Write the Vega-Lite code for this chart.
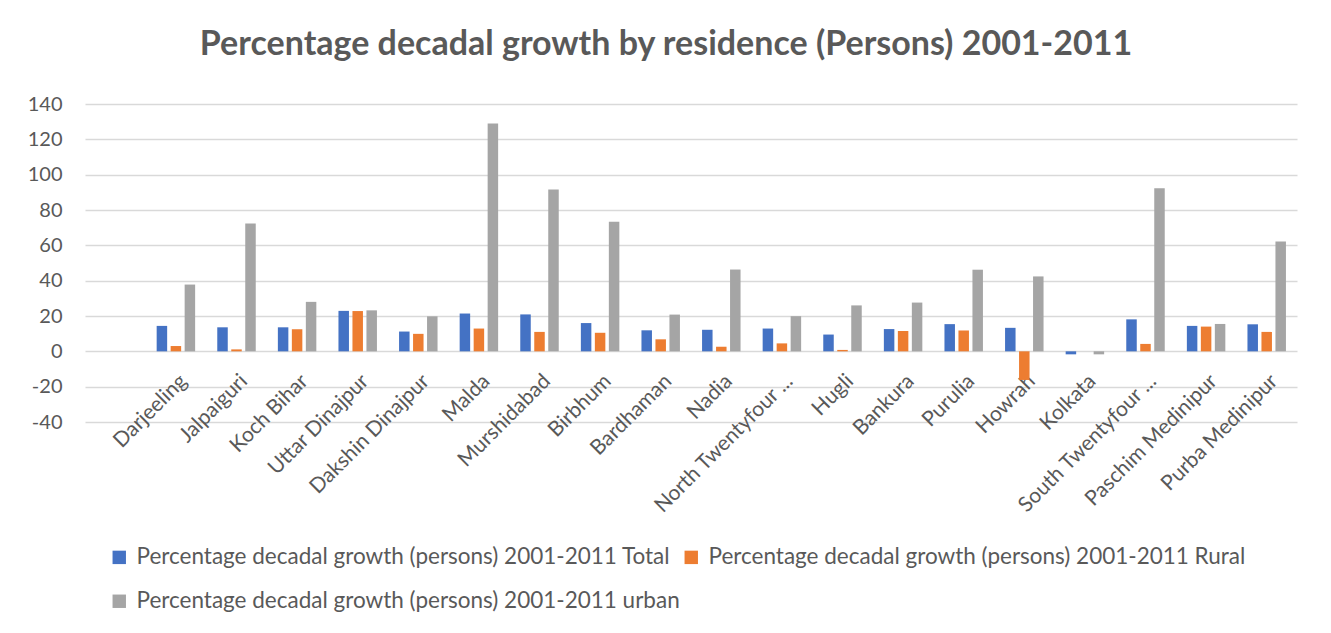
{
  "$schema": "https://vega.github.io/schema/vega-lite/v6.json",
  "autosize": {"type": "none"},
  "width": 1212,
  "height": 318,
  "padding": {"left": 85, "top": 104, "right": 34, "bottom": 211},
  "background": "white",
  "title": {
    "text": "Percentage decadal growth by residence (Persons) 2001-2011",
    "font": "Lato",
    "fontSize": 34,
    "fontWeight": "bold",
    "color": "#595959",
    "anchor": "middle",
    "dx": -25,
    "offset": 32
  },
  "config": {
    "view": {"stroke": null},
    "font": "Lato"
  },
  "data": {
    "values": [
      {"district": "Darjeeling", "series": "Percentage decadal growth (persons) 2001-2011 Total", "value": 14.4},
      {"district": "Darjeeling", "series": "Percentage decadal growth (persons) 2001-2011 Rural", "value": 3.0},
      {"district": "Darjeeling", "series": "Percentage decadal growth (persons) 2001-2011 urban", "value": 37.8},
      {"district": "Jalpaiguri", "series": "Percentage decadal growth (persons) 2001-2011 Total", "value": 13.6},
      {"district": "Jalpaiguri", "series": "Percentage decadal growth (persons) 2001-2011 Rural", "value": 1.1},
      {"district": "Jalpaiguri", "series": "Percentage decadal growth (persons) 2001-2011 urban", "value": 72.3},
      {"district": "Koch Bihar", "series": "Percentage decadal growth (persons) 2001-2011 Total", "value": 13.6},
      {"district": "Koch Bihar", "series": "Percentage decadal growth (persons) 2001-2011 Rural", "value": 12.5},
      {"district": "Koch Bihar", "series": "Percentage decadal growth (persons) 2001-2011 urban", "value": 28.0},
      {"district": "Uttar Dinajpur", "series": "Percentage decadal growth (persons) 2001-2011 Total", "value": 22.9},
      {"district": "Uttar Dinajpur", "series": "Percentage decadal growth (persons) 2001-2011 Rural", "value": 22.8},
      {"district": "Uttar Dinajpur", "series": "Percentage decadal growth (persons) 2001-2011 urban", "value": 23.2},
      {"district": "Dakshin Dinajpur", "series": "Percentage decadal growth (persons) 2001-2011 Total", "value": 11.2},
      {"district": "Dakshin Dinajpur", "series": "Percentage decadal growth (persons) 2001-2011 Rural", "value": 9.9},
      {"district": "Dakshin Dinajpur", "series": "Percentage decadal growth (persons) 2001-2011 urban", "value": 19.8},
      {"district": "Malda", "series": "Percentage decadal growth (persons) 2001-2011 Total", "value": 21.4},
      {"district": "Malda", "series": "Percentage decadal growth (persons) 2001-2011 Rural", "value": 12.9},
      {"district": "Malda", "series": "Percentage decadal growth (persons) 2001-2011 urban", "value": 129.0},
      {"district": "Murshidabad", "series": "Percentage decadal growth (persons) 2001-2011 Total", "value": 20.9},
      {"district": "Murshidabad", "series": "Percentage decadal growth (persons) 2001-2011 Rural", "value": 11.0},
      {"district": "Murshidabad", "series": "Percentage decadal growth (persons) 2001-2011 urban", "value": 91.6},
      {"district": "Birbhum", "series": "Percentage decadal growth (persons) 2001-2011 Total", "value": 16.0},
      {"district": "Birbhum", "series": "Percentage decadal growth (persons) 2001-2011 Rural", "value": 10.5},
      {"district": "Birbhum", "series": "Percentage decadal growth (persons) 2001-2011 urban", "value": 73.4},
      {"district": "Bardhaman", "series": "Percentage decadal growth (persons) 2001-2011 Total", "value": 11.9},
      {"district": "Bardhaman", "series": "Percentage decadal growth (persons) 2001-2011 Rural", "value": 6.8},
      {"district": "Bardhaman", "series": "Percentage decadal growth (persons) 2001-2011 urban", "value": 20.8},
      {"district": "Nadia", "series": "Percentage decadal growth (persons) 2001-2011 Total", "value": 12.2},
      {"district": "Nadia", "series": "Percentage decadal growth (persons) 2001-2011 Rural", "value": 2.6},
      {"district": "Nadia", "series": "Percentage decadal growth (persons) 2001-2011 urban", "value": 46.3},
      {"district": "North Twentyfour ...", "series": "Percentage decadal growth (persons) 2001-2011 Total", "value": 12.9},
      {"district": "North Twentyfour ...", "series": "Percentage decadal growth (persons) 2001-2011 Rural", "value": 4.5},
      {"district": "North Twentyfour ...", "series": "Percentage decadal growth (persons) 2001-2011 urban", "value": 19.9},
      {"district": "Hugli", "series": "Percentage decadal growth (persons) 2001-2011 Total", "value": 9.5},
      {"district": "Hugli", "series": "Percentage decadal growth (persons) 2001-2011 Rural", "value": 0.8},
      {"district": "Hugli", "series": "Percentage decadal growth (persons) 2001-2011 urban", "value": 26.0},
      {"district": "Bankura", "series": "Percentage decadal growth (persons) 2001-2011 Total", "value": 12.6},
      {"district": "Bankura", "series": "Percentage decadal growth (persons) 2001-2011 Rural", "value": 11.5},
      {"district": "Bankura", "series": "Percentage decadal growth (persons) 2001-2011 urban", "value": 27.6},
      {"district": "Purulia", "series": "Percentage decadal growth (persons) 2001-2011 Total", "value": 15.4},
      {"district": "Purulia", "series": "Percentage decadal growth (persons) 2001-2011 Rural", "value": 11.8},
      {"district": "Purulia", "series": "Percentage decadal growth (persons) 2001-2011 urban", "value": 46.2},
      {"district": "Howrah", "series": "Percentage decadal growth (persons) 2001-2011 Total", "value": 13.3},
      {"district": "Howrah", "series": "Percentage decadal growth (persons) 2001-2011 Rural", "value": -16.2},
      {"district": "Howrah", "series": "Percentage decadal growth (persons) 2001-2011 urban", "value": 42.4},
      {"district": "Kolkata", "series": "Percentage decadal growth (persons) 2001-2011 Total", "value": -1.7},
      {"district": "Kolkata", "series": "Percentage decadal growth (persons) 2001-2011 urban", "value": -1.7},
      {"district": "South Twentyfour ...", "series": "Percentage decadal growth (persons) 2001-2011 Total", "value": 18.1},
      {"district": "South Twentyfour ...", "series": "Percentage decadal growth (persons) 2001-2011 Rural", "value": 4.2},
      {"district": "South Twentyfour ...", "series": "Percentage decadal growth (persons) 2001-2011 urban", "value": 92.3},
      {"district": "Paschim Medinipur", "series": "Percentage decadal growth (persons) 2001-2011 Total", "value": 14.4},
      {"district": "Paschim Medinipur", "series": "Percentage decadal growth (persons) 2001-2011 Rural", "value": 14.0},
      {"district": "Paschim Medinipur", "series": "Percentage decadal growth (persons) 2001-2011 urban", "value": 15.5},
      {"district": "Purba Medinipur", "series": "Percentage decadal growth (persons) 2001-2011 Total", "value": 15.3},
      {"district": "Purba Medinipur", "series": "Percentage decadal growth (persons) 2001-2011 Rural", "value": 11.0},
      {"district": "Purba Medinipur", "series": "Percentage decadal growth (persons) 2001-2011 urban", "value": 62.1}
    ]
  },
  "mark": {"type": "bar"},
  "encoding": {
    "x": {
      "field": "district",
      "type": "nominal",
      "scale": {
        "domain": ["", "Darjeeling", "Jalpaiguri", "Koch Bihar", "Uttar Dinajpur", "Dakshin Dinajpur", "Malda", "Murshidabad", "Birbhum", "Bardhaman", "Nadia", "North Twentyfour ...", "Hugli", "Bankura", "Purulia", "Howrah", "Kolkata", "South Twentyfour ...", "Paschim Medinipur", "Purba Medinipur"],
        "paddingInner": 0.365,
        "paddingOuter": 0.1825
      },
      "axis": {
        "title": null,
        "orient": "bottom",
        "offset": -71,
        "domain": false,
        "ticks": false,
        "labelAngle": -45,
        "labelAlign": "right",
        "labelBaseline": "top",
        "labelPadding": 19,
        "labelFontSize": 21,
        "labelColor": "#595959",
        "labelFont": "Lato",
        "labelLimit": 300
      }
    },
    "xOffset": {
      "field": "series",
      "type": "nominal",
      "scale": {
        "domain": ["Percentage decadal growth (persons) 2001-2011 Total", "Percentage decadal growth (persons) 2001-2011 Rural", "Percentage decadal growth (persons) 2001-2011 urban"],
        "paddingInner": 0.25,
        "paddingOuter": 0
      }
    },
    "y": {
      "field": "value",
      "type": "quantitative",
      "scale": {"domain": [-40, 140], "nice": false},
      "axis": {
        "title": null,
        "values": [-40, -20, 0, 20, 40, 60, 80, 100, 120, 140],
        "labelExpr": "'' + datum.value",
        "domain": false,
        "ticks": false,
        "labelPadding": 23,
        "labelFontSize": 20,
        "labelColor": "#595959",
        "labelFont": "Lato",
        "gridColor": "#d9d9d9",
        "gridWidth": 1.5
      }
    },
    "color": {
      "field": "series",
      "type": "nominal",
      "scale": {
        "domain": ["Percentage decadal growth (persons) 2001-2011 Total", "Percentage decadal growth (persons) 2001-2011 Rural", "Percentage decadal growth (persons) 2001-2011 urban"],
        "range": ["#4472C4", "#ED7D31", "#A5A5A5"]
      },
      "legend": {
        "title": null,
        "orient": "none",
        "legendX": 23,
        "legendY": 442,
        "direction": "horizontal",
        "columns": 2,
        "columnPadding": -4,
        "rowPadding": 21,
        "symbolType": "square",
        "symbolSize": 180,
        "symbolStrokeWidth": 0,
        "symbolOpacity": 1,
        "labelOffset": 6,
        "labelFontSize": 22.5,
        "labelColor": "#595959",
        "labelFont": "Lato",
        "labelLimit": 800
      }
    }
  }
}
